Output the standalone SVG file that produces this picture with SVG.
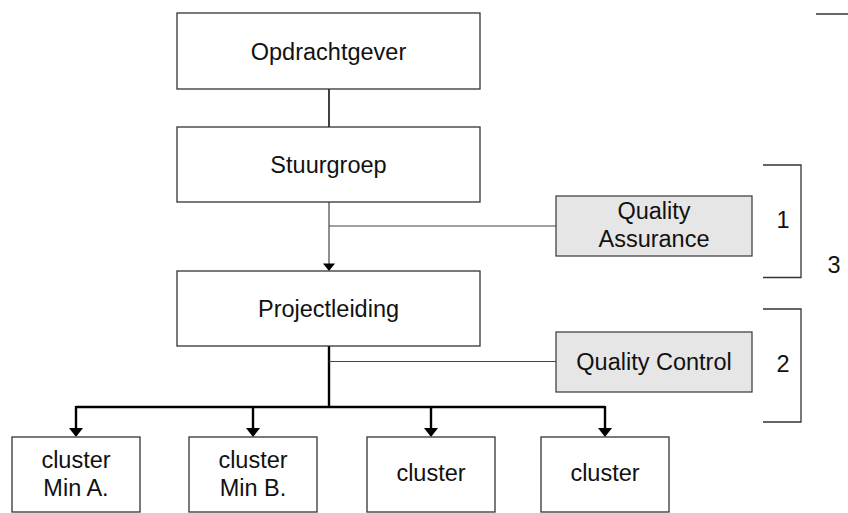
<svg xmlns="http://www.w3.org/2000/svg" width="848" height="513" viewBox="0 0 848 513">
  <style>
    .box { fill: #ffffff; stroke: #333333; stroke-width: 1.3; }
    .qbox { fill: #e6e6e6; stroke: #444444; stroke-width: 1.3; }
    text { font-family: "Liberation Sans", Arial, sans-serif; font-size: 23.5px; fill: #111111; text-anchor: middle; }
    .thin { stroke: #444444; stroke-width: 1.2; fill: none; }
    .mid { stroke: #111111; stroke-width: 1.6; fill: none; }
    .bus { stroke: #000000; stroke-width: 2.4; fill: none; }
    .bracket { stroke: #333333; stroke-width: 1.3; fill: none; }
    .arrow { fill: #000000; }
  </style>

  <!-- connectors -->
  <g id="connectors">
    <line class="mid" x1="329" y1="89" x2="329" y2="127"/>
    <line class="thin" x1="329" y1="202" x2="329" y2="264"/>
    <polygon class="arrow" points="323,263.5 335,263.5 329,271"/>
    <line class="thin" x1="329" y1="226" x2="556" y2="226"/>
    <line class="bus" x1="329" y1="346" x2="329" y2="407"/>
    <line class="thin" x1="329" y1="361.5" x2="556" y2="361.5"/>
    <line class="bus" x1="76" y1="407" x2="605" y2="407"/>
    <line class="bus" x1="76" y1="406" x2="76" y2="429"/>
    <line class="bus" x1="253" y1="406" x2="253" y2="429"/>
    <line class="bus" x1="431" y1="406" x2="431" y2="429"/>
    <line class="bus" x1="605" y1="406" x2="605" y2="429"/>
    <polygon class="arrow" points="69,428 83,428 76,437"/>
    <polygon class="arrow" points="246,428 260,428 253,437"/>
    <polygon class="arrow" points="424,428 438,428 431,437"/>
    <polygon class="arrow" points="598,428 612,428 605,437"/>
  </g>

  <!-- main chain -->
  <g id="opdrachtgever">
    <rect class="box" x="177" y="13" width="303" height="76"/>
    <text x="328.5" y="59.5">Opdrachtgever</text>
  </g>
  <g id="stuurgroep">
    <rect class="box" x="177" y="127" width="303" height="75"/>
    <text x="328.5" y="173">Stuurgroep</text>
  </g>
  <g id="projectleiding">
    <rect class="box" x="177" y="271" width="303" height="75"/>
    <text x="328.5" y="317">Projectleiding</text>
  </g>

  <!-- quality boxes -->
  <g id="quality-assurance">
    <rect class="qbox" x="556" y="196" width="196" height="60"/>
    <text x="654" y="218.5">Quality</text>
    <text x="654" y="246.5">Assurance</text>
  </g>
  <g id="quality-control">
    <rect class="qbox" x="556" y="332" width="196" height="60"/>
    <text x="654" y="369.5">Quality Control</text>
  </g>

  <!-- clusters -->
  <g id="cluster-min-a">
    <rect class="box" x="12" y="437" width="128" height="75"/>
    <text x="76" y="467.5">cluster</text>
    <text x="76" y="495.5">Min A.</text>
  </g>
  <g id="cluster-min-b">
    <rect class="box" x="189" y="437" width="128" height="75"/>
    <text x="253" y="467.5">cluster</text>
    <text x="253" y="495.5">Min B.</text>
  </g>
  <g id="cluster-3">
    <rect class="box" x="367" y="437" width="128" height="75"/>
    <text x="431" y="481">cluster</text>
  </g>
  <g id="cluster-4">
    <rect class="box" x="541" y="437" width="128" height="75"/>
    <text x="605" y="481">cluster</text>
  </g>

  <!-- brackets with numbers -->
  <g id="bracket-1">
    <polyline class="bracket" points="763,165 801,165 801,277.5 763,277.5"/>
    <text x="783" y="228">1</text>
  </g>
  <g id="bracket-2">
    <polyline class="bracket" points="763,309 801,309 801,422 763,422"/>
    <text x="783" y="372">2</text>
  </g>
  <g id="label-3">
    <text x="834" y="273">3</text>
  </g>

  <!-- short rule in the top-right corner -->
  <line x1="816" y1="14" x2="848" y2="14" stroke="#666666" stroke-width="2"/>
</svg>
